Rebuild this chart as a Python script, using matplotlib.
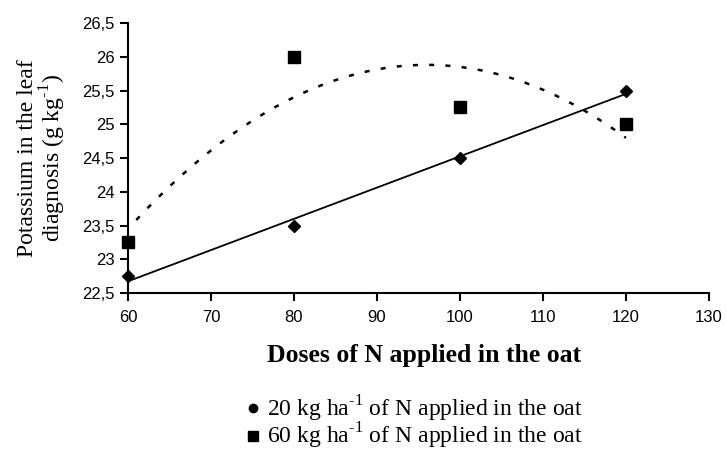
import numpy as np
import matplotlib.pyplot as plt
from matplotlib.lines import Line2D

# data
doses = [60, 80, 100, 120]
k_20 = [22.75, 23.5, 24.5, 25.5]     # 20 kg ha-1 of N in the oat
k_60 = [23.25, 26.0, 25.25, 25.0]    # 60 kg ha-1 of N in the oat

x_ticks = [60, 70, 80, 90, 100, 110, 120, 130]
y_ticks = [22.5, 23, 23.5, 24, 24.5, 25, 25.5, 26, 26.5]
y_labels = ["22,5", "23", "23,5", "24", "24,5", "25", "25,5", "26", "26,5"]

serif = "Liberation Serif"
sans = "Liberation Sans"
sup = "$^{\\mathregular{\u20101}}$"

fig = plt.figure(figsize=(7.27, 4.51), dpi=100)
ax = fig.add_axes([0.176, 0.350, 0.799, 0.599])

# trend lines
lin = np.polyfit(doses, k_20, 1)
xl = np.linspace(60, 120, 50)
ax.plot(xl, np.polyval(lin, xl), color="black", lw=1.3)

quad = np.polyfit(doses, k_60, 2)
xq = np.linspace(61, 120, 100)
ax.plot(xq, np.polyval(quad, xq), color="black", lw=1.8, ls=(0, (2, 4.5)))

ax.plot(doses, k_20, "D", color="black", ms=6, clip_on=False)
ax.plot(doses, k_60, "s", color="black", ms=8, clip_on=False)

ax.set_xlim(60, 130)
ax.set_ylim(22.5, 26.5)
ax.set_xticks(x_ticks)
ax.set_xticklabels([str(v) for v in x_ticks], fontfamily=sans, fontsize=12)
ax.set_yticks(y_ticks)
ax.set_yticklabels(y_labels, fontfamily=sans, fontsize=12)
ax.tick_params(direction="out", length=6, width=1.5, color="black")
ax.tick_params(axis="x", pad=6)
ax.spines["top"].set_visible(False)
ax.spines["right"].set_visible(False)
for s in ("left", "bottom"):
    ax.spines[s].set_linewidth(1.5)

ax.set_xlabel("Doses of N applied in the oat", fontfamily=serif,
              fontsize=18.5, fontweight="bold")
ax.xaxis.set_label_coords(0.51, -0.19)
ax.set_ylabel("Potassium in the leaf\ndiagnosis (g kg" + sup + ")",
              fontfamily=serif, fontsize=17, labelpad=10, linespacing=1.0)

handles = [
    Line2D([], [], marker="o", color="black", ls="none", ms=6),
    Line2D([], [], marker="s", color="black", ls="none", ms=7),
]
labels = [
    "20 kg ha" + sup + " of N applied in the oat",
    "60 kg ha" + sup + " of N applied in the oat",
]
fig.legend(handles, labels, loc="center", bbox_to_anchor=(0.568, 0.063),
           frameon=False, prop={"family": serif, "size": 17},
           handletextpad=0.2, labelspacing=-0.12, handlelength=0.8,
           borderpad=0.1)

fig.savefig("out.png", dpi=100)
